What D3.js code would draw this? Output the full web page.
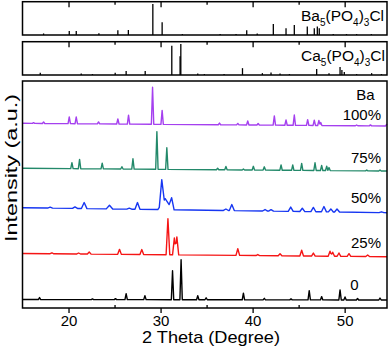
<!DOCTYPE html>
<html lang="en">
<head>
<meta charset="UTF-8">
<title>XRD patterns</title>
<script src="https://d3js.org/d3.v7.min.js"></script>
<style>
    body { margin: 0; background: #fff; }
    text { font-family: "Liberation Sans", Arial, sans-serif; fill: #000; }
</style>
</head>
<body>
<svg width="392" height="350"></svg>
<script>
// ---- data ----
const xMajorTicks = [20, 30, 40, 50];
const xMinorTicks = [25, 35, 45];
const samples = ["0", "25%", "50%", "75%", "100%"];
const sampleColors = ["#000000", "#f51515", "#1636f2", "#23896a", "#a540ef"];
// baseline level (in px-like intensity units) at 15 and 54.6 degrees
const baselines = [[8.5, 8], [54.5, 51.3], [100.3, 95.3], [139.7, 137], [184.7, 182]];
const peakHalfWidth = [0.13, 0.2, 0.27, 0.13, 0.13];

// [2theta, height, (optional half width)]
const peaks0 = [[16.85, 2], [22.6, 0.7], [25.1, 1], [26.26, 6], [28.3, 4], [31.3, 29], [32.23, 40],
    [34.04, 4], [34.95, 2], [39.0, 6.7], [41.27, 1.5], [44.17, 1], [46.15, 9.3], [47.5, 3.3],
    [49.5, 10], [50.04, 3], [51.4, 1.5], [53.84, 2]];
const peaks25 = [[18.2, 1], [21.1, 1], [22.25, 2], [25.54, 5], [27.96, 5], [30.8, 36], [31.5, 17],
    [31.77, 18], [38.39, 6.7], [40.56, 1], [42.98, 2], [45.33, 5.7], [46.6, 3], [48.41, 5],
    [48.7, 4], [49.38, 3.3], [50.47, 2.7], [52.5, 1.5]];
const peaks50 = [[18.0, 1], [20.7, 1.5], [21.7, 6, 0.3], [24.45, 3.7, 0.35], [26.6, 1], [27.49, 6.7],
    [30.13, 30], [30.5, 11, 0.8], [31.2, 12], [37.1, 1.5], [37.74, 6], [41.35, 1.5], [42.0, 1.5],
    [44.14, 4.3], [45.4, 3.3], [46.6, 4.3], [47.75, 5.3], [48.5, 3], [49.17, 3], [54.0, 0.8]];
const peaks75 = [[20.37, 6], [21.2, 9.3], [23.66, 5.7], [25.8, 2.3], [27.0, 10.3], [29.6, 37.7],
    [30.68, 21.7], [36.2, 1.5], [37.1, 3.3], [39.0, 1], [40.08, 3.7], [41.27, 3.3], [43.09, 5.3],
    [44.36, 5.3], [45.33, 7], [46.78, 7.7], [47.5, 5], [48.05, 4.3], [48.3, 3], [52.4, 0.8], [53.84, 1]];
const peaks100 = [[16.2, 0.7], [17.29, 1.5], [20.08, 6.7], [20.84, 6.7], [23.26, 2], [25.36, 5],
    [26.52, 9], [29.13, 37], [30.17, 14], [36.4, 1.7], [38.39, 1.5], [39.47, 4], [40.6, 1.5],
    [42.36, 9.3], [43.63, 5.3], [44.53, 10.3], [45.98, 5.7], [46.7, 5.3], [47.2, 5], [47.4, 3],
    [51.3, 0.8], [52.8, 1], [54.56, 1.5]];
const samplePeaks = [peaks0, peaks25, peaks50, peaks75, peaks100];

// reference cards, relative intensity (%)
const refBa = [[17.29, 5], [20.08, 13], [20.84, 13], [23.3, 6], [25.36, 15], [26.5, 16], [29.16, 100],
    [30.17, 41], [32.37, 3], [36.47, 3], [38.2, 3], [39.36, 15], [40.5, 5], [42.25, 35], [43.63, 22],
    [44.53, 32], [45.94, 27], [46.7, 22], [47.03, 27], [47.24, 22], [48.76, 3], [50.2, 3], [51.3, 3], [52.9, 3]];
const refCa = [[16.93, 7], [21.38, 5], [22.6, 3], [25.07, 7], [26.26, 13], [28.33, 13], [31.22, 94],
    [32.12, 60], [32.2, 100], [34.04, 5], [34.76, 3], [36.9, 3], [38.9, 22], [41.06, 6], [42.0, 8],
    [42.98, 5], [44.0, 3], [46.96, 19], [48.3, 6], [49.5, 26], [49.7, 16], [49.96, 10], [51.3, 3],
    [52.93, 6], [54.0, 3]];

// ---- layout ----
const svg = d3.select("svg");
const left = 22.5, right = 387;
const panels = [
    { top: 1.7, bottom: 35, data: refBa, label: ["Ba", "5", "(PO", "4", ")", "3", "Cl"] },
    { top: 41.7, bottom: 75, data: refCa, label: ["Ca", "5", "(PO", "4", ")", "3", "Cl"] }
];
const mainTop = 81, mainBottom = 308;

const x = d3.scaleLinear().domain([15, 54.6]).range([left, right]);

// reference stick panels
panels.forEach(p => {
    const y = d3.scaleLinear().domain([0, 107]).range([p.bottom, p.top]);
    const g = svg.append("g");
    g.selectAll("line.stick")
        .data(p.data)
        .join("line")
        .attr("class", "stick")
        .attr("x1", d => x(d[0])).attr("x2", d => x(d[0]))
        .attr("y1", y(0)).attr("y2", d => y(d[1]))
        .attr("stroke", "#000").attr("stroke-width", 1.3);

    // inward ticks on top edge
    g.append("g").attr("transform", `translate(0,${p.top})`)
        .call(d3.axisTop(x).tickValues(xMajorTicks).tickSize(-5.5).tickFormat(""))
        .call(a => a.select(".domain").remove())
        .selectAll("line").attr("stroke-width", 1.3);
    g.append("g").attr("transform", `translate(0,${p.top})`)
        .call(d3.axisTop(x).tickValues(xMinorTicks).tickSize(-3).tickFormat(""))
        .call(a => a.select(".domain").remove())
        .selectAll("line").attr("stroke-width", 1.3);

    g.append("rect")
        .attr("x", left).attr("y", p.top)
        .attr("width", right - left).attr("height", p.bottom - p.top)
        .attr("fill", "none").attr("stroke", "#000").attr("stroke-width", 1.5);

    const t = g.append("text")
        .attr("x", 301).attr("y", p.top + 19.5)
        .attr("font-size", 15);
    p.label.forEach((s, i) => {
        const sub = i % 2 === 1;
        t.append("tspan")
            .attr("font-size", sub ? 10 : 15.5)
            .attr("dy", i === 0 ? 0 : (sub ? 4.5 : -4.5))
            .text(s);
    });
});

// main panel
const y = d3.scaleLinear().domain([0, mainBottom - mainTop]).range([mainBottom, mainTop]);

function buildCurve(peaks, base, hw) {
    const baseAt = d3.scaleLinear().domain(x.domain()).range(base);
    const xs = [15, 54.6];
    peaks.forEach(p => {
        const w = p[2] || hw;
        xs.push(p[0] - w, p[0], p[0] + w);
    });
    xs.sort((a, b) => a - b);
    return xs.filter(v => v >= 15 && v <= 54.6).map(v => {
        let h = 0;
        peaks.forEach(p => {
            const w = p[2] || hw;
            const d = Math.abs(v - p[0]);
            if (d < w) h = Math.max(h, p[1] * (1 - d / w));
        });
        return [v, baseAt(v) + h];
    });
}

const line = d3.line().x(d => x(d[0])).y(d => y(d[1]));

samplePeaks.forEach((pk, i) => {
    svg.append("path")
        .datum(buildCurve(pk, baselines[i], peakHalfWidth[i]))
        .attr("d", line)
        .attr("fill", "none")
        .attr("stroke", sampleColors[i])
        .attr("stroke-width", 1.4)
        .attr("stroke-linejoin", "round");
});

// curve labels
const labelPos = [[358.5, 290], [381, 248], [381, 203], [381, 162.5], [381, 120]];
samples.forEach((s, i) => {
    svg.append("text")
        .attr("x", labelPos[i][0]).attr("y", labelPos[i][1])
        .attr("text-anchor", "end").attr("font-size", 15)
        .text(s);
});
svg.append("text")
    .attr("x", 374.5).attr("y", 100)
    .attr("text-anchor", "end").attr("font-size", 15)
    .text("Ba");

// bottom axis
svg.append("g").attr("transform", `translate(0,${mainBottom})`)
    .call(d3.axisBottom(x).tickValues(xMajorTicks).tickSize(5).tickPadding(2))
    .call(a => a.select(".domain").remove())
    .call(a => a.selectAll("line").attr("stroke-width", 1.3))
    .call(a => a.selectAll("text").attr("font-size", 15).attr("font-family", "Liberation Sans, Arial, sans-serif"));
svg.append("g").attr("transform", `translate(0,${mainBottom})`)
    .call(d3.axisBottom(x).tickValues(xMinorTicks).tickSize(-3).tickFormat(""))
    .call(a => a.select(".domain").remove())
    .selectAll("line").attr("stroke-width", 1.3);

svg.append("rect")
    .attr("x", left).attr("y", mainTop)
    .attr("width", right - left).attr("height", mainBottom - mainTop)
    .attr("fill", "none").attr("stroke", "#000").attr("stroke-width", 1.5);

// axis titles
svg.append("text")
    .attr("x", 211).attr("y", 343)
    .attr("text-anchor", "middle").attr("font-size", 17)
    .attr("textLength", 138).attr("lengthAdjust", "spacingAndGlyphs")
    .text("2 Theta (Degree)");
svg.append("text")
    .attr("transform", "translate(16.5,168) rotate(-90)")
    .attr("text-anchor", "middle").attr("font-size", 16)
    .attr("textLength", 148).attr("lengthAdjust", "spacingAndGlyphs")
    .text("Intensity (a.u.)");
</script>
</body>
</html>
